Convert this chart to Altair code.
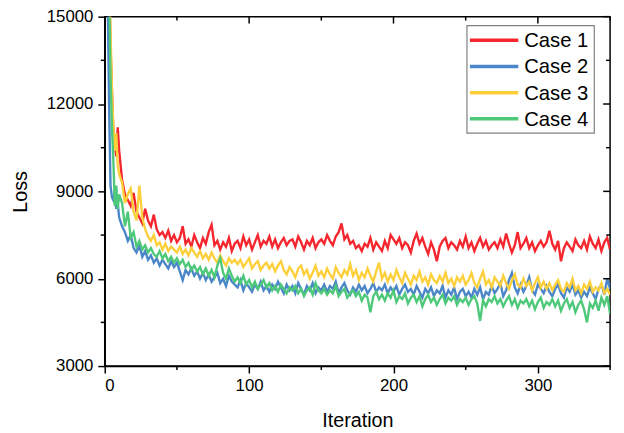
import altair as alt
import pandas as pd

iterations = list(range(1, 11)) + list(range(12, 351, 2))

case1 = [
    22000, 19000, 16500, 14000, 12500, 11000, 10600, 10200, 11200, 10400,
    9400, 8900, 8700, 8500, 8950, 8300, 8100, 7900, 8400, 8000,
    7800, 8200, 7700, 7500, 7600, 7400, 7650, 7300, 7500, 7250,
    7400, 7800, 7200, 7350, 7100, 7500, 7250, 7050, 7400, 7200,
    7600, 7850, 7150, 7300, 7000, 7250, 7100, 7400, 6950, 7200,
    7300, 7050, 7450, 7150, 7350, 7000, 7250, 7500, 7100, 7300,
    7200, 7450, 7100, 7350, 7050, 7250, 7400, 7150, 7300, 7350,
    7100, 7450, 7250, 7000, 7300, 7150, 7400, 7050, 7250, 7350,
    7200, 7500, 7300, 7150, 7450, 7600, 7900, 7350, 7500, 7200,
    7300, 7050, 7150, 6950, 7200, 7100, 7400, 7000, 7250, 7100,
    6950, 7300, 7050, 7500, 7350, 7200, 7400, 7050, 7250, 7150,
    6900, 7300, 7550, 7200, 7400, 7100, 6850, 7250, 7000, 6600,
    7100, 7300, 7400, 7050, 7250, 7150, 7000, 7300, 7100, 7450,
    7050, 7250, 6950, 7200, 7400, 7100, 7300, 7000, 7150, 7250,
    7050, 7350, 7100, 7550, 7200, 6900, 7150, 7600, 7050, 7200,
    7400, 7050, 7250, 6950, 7150, 7300, 7100, 7250, 7650, 7200,
    7000, 7300, 6600, 7050, 7250, 7100, 6950, 7350, 7150, 7050,
    7300, 7000, 7450, 7200, 7050, 7350, 6950, 7250, 7400, 7000,
]

case2 = [
    21000, 16000, 12000, 9200, 8800, 8700, 9000, 8400, 8600, 8100,
    7800, 7600, 7300, 7500, 7050, 6900, 7150, 6750, 6950, 6650,
    6800, 6550, 6700, 6450, 6650, 6500, 6350, 6600, 6400, 6550,
    6250, 5950, 6300, 6150, 6350, 6100, 6250, 6000, 6200, 5950,
    6150, 5900, 6050, 6200, 5850, 6000, 5750, 6100, 5900, 5800,
    5700, 5950, 5600, 5850, 5700, 5550, 5800, 5650, 5900, 5600,
    5750, 5550, 5800, 5650, 5900, 5700, 5500, 5800, 5600, 5750,
    5500, 5850, 5650, 5450, 5750, 5600, 5850, 5500, 5700, 5600,
    5800, 5550, 5750, 5650, 5900, 5500, 5700, 5850, 5600, 5450,
    5700, 5550, 5800, 5600, 5750, 5500, 5650, 5850, 5550, 5700,
    5600, 5800, 5500, 5700, 5550, 5750, 5450, 5650, 5800, 5550,
    5650, 5450, 5750, 5550, 5350, 5650, 5500, 5700, 5400, 5600,
    5500, 5750, 5350, 5600, 5450, 5700, 5300, 5550, 5650, 5400,
    5550, 5350, 5650, 5450, 5700, 5300, 5550, 5450, 5750, 5500,
    5650, 5850, 5400, 5600, 5950, 6200, 5700, 5500, 5800, 5550,
    5750, 6050, 5600, 5450, 5800, 5650, 5500, 5750, 5550, 5400,
    5650, 5800, 5500, 5350, 5700, 5550, 5800, 5450, 5600, 5350,
    5550, 5400, 5700, 5500, 5300, 5650, 5800, 5450, 6000, 5650,
]

case3 = [
    24000, 20000, 17000, 14500, 12500, 11200, 10400, 11000, 9900, 9600,
    9300, 8600, 8900, 9100, 8300, 8000, 9200, 8100, 7700, 7450,
    7300, 7500, 7150, 7250, 7000, 7200, 6950, 7100, 7000, 6900,
    7100, 6850, 7000, 6800, 7050, 6900, 6750, 6950, 6700, 6850,
    6650, 6900, 6700, 6550, 6800, 6600, 6450, 6700, 6550, 6650,
    6500, 6650, 6400, 6550, 6700, 6350, 6500, 6600, 6300, 6450,
    6550, 6350, 6500, 6250, 6450, 6600, 6300, 6150, 6400, 6250,
    6050, 6350, 6450, 6150, 6300, 6000, 6200, 6450, 6100, 6250,
    6050, 6350, 6150, 6000, 6400, 6200, 6050, 6300, 6150, 6500,
    6100, 6300, 5950, 6200, 6050, 6350, 6100, 5900, 6250, 6550,
    6000, 6200, 5900, 6150, 5950, 6300, 6050, 5850, 6200, 6000,
    5800, 6100, 5950, 6250, 5900, 6050, 5800, 6150, 5950, 5850,
    6100, 5900, 6200, 5850, 6000, 5750, 6050, 5900, 6100, 5800,
    5950, 6200, 5850, 5700, 6000, 6250, 5800, 5950, 5700, 6050,
    5900, 5750, 6100, 5850, 5650, 5950, 6150, 5800, 5700, 6000,
    5750, 5900, 5600, 5850, 6050, 5700, 5900, 5650, 5850, 5600,
    5800, 5950, 5650, 5550, 5850, 5700, 6000, 5600, 5750, 5500,
    5800, 5650, 5900, 5550, 5700, 5600, 5850, 5500, 5650, 5450,
]

case4 = [
    25000, 20000, 16000, 13000, 11200, 10000, 8500, 9200, 8400, 8900,
    8600, 7800, 8300, 7400, 7600, 7100, 7300, 7000, 7150, 6900,
    7050, 6850, 6750, 6950, 6700, 6850, 6600, 6750, 6550, 6700,
    6500, 6650, 6400, 6550, 6300, 6450, 6250, 6400, 6150, 6350,
    6100, 6300, 6050, 6450, 6700, 6200, 6000, 6350, 6100, 5900,
    6050, 5850, 6100, 5800, 5950, 5700, 5900, 5650, 5800, 5950,
    5700, 5850, 5600, 5750, 5550, 5800, 5650, 5500, 5700, 5600,
    5750, 5500, 5650, 5400, 5600, 5700, 5450, 5850, 5600, 5500,
    5650, 5450, 5600, 5500, 5750, 5400, 5550, 5650, 5350, 5500,
    5600, 5400, 5550, 5250, 5450, 5350, 4850, 5400, 5550, 5300,
    5450, 5250, 5500, 5350, 5600, 5200, 5400, 5300, 5500, 5150,
    5350, 5450, 5200, 5400, 5050, 5300, 5450, 5200, 5350, 5100,
    5300, 5450, 5150, 5350, 5250, 5400, 5100, 5300, 5200, 5350,
    5100, 5300, 5400, 5150, 4550, 5250, 5050, 5300, 5200, 5400,
    5150, 5300, 5050, 5250, 5400, 5100, 5300, 5000, 5250, 5150,
    5300, 5050, 5250, 4950, 5200, 5350, 5000, 5200, 5100, 5300,
    5050, 5250, 4900, 5150, 5300, 5000, 5200, 4850, 5100, 5250,
    4950, 4500, 5150, 5000, 5250, 4900, 5350, 5100, 5400, 4800,
]

case_names = ["Case 1", "Case 2", "Case 3", "Case 4"]
case_colors = ["#f5262d", "#4a86c8", "#fdd03b", "#4ec97a"]

x_major = [0, 100, 200, 300]
x_minor = [50, 150, 250, 350]
y_major = [3000, 6000, 9000, 12000, 15000]
y_minor = [4500, 7500, 10500, 13500]

rows = []
for name, series in zip(case_names, [case1, case2, case3, case4]):
    for it, v in zip(iterations, series):
        rows.append({"Iteration": it, "Loss": v, "Case": name})
df = pd.DataFrame(rows)

W, H = 512, 354
FONT = "Liberation Sans"

xscale = alt.Scale(domain=[0, 350], nice=False, zero=False)
yscale = alt.Scale(domain=[3000, 15000], nice=False, zero=False)
cscale = alt.Scale(domain=case_names, range=case_colors)

lines = alt.Chart(df).mark_line(strokeWidth=2.4, clip=True).encode(
    x=alt.X("Iteration:Q", scale=xscale,
            axis=alt.Axis(values=x_major, title="Iteration", titlePadding=17,
                          labelPadding=5, format="d")),
    y=alt.Y("Loss:Q", scale=yscale,
            axis=alt.Axis(values=y_major, title="Loss", titlePadding=16,
                          labelPadding=5, format="d")),
    color=alt.Color("Case:N", scale=cscale, legend=None),
)

xminor_df = pd.DataFrame({"v": x_minor})
xmajor_df = pd.DataFrame({"v": x_major})
yminor_df = pd.DataFrame({"v": y_minor})
ymajor_df = pd.DataFrame({"v": y_major})

tick_style = dict(color="black", strokeWidth=1.5)

top_major = alt.Chart(xmajor_df).mark_rule(**tick_style).encode(
    x=alt.X("v:Q", scale=xscale), y=alt.value(0), y2=alt.value(7))
top_minor = alt.Chart(xminor_df).mark_rule(**tick_style).encode(
    x=alt.X("v:Q", scale=xscale), y=alt.value(0), y2=alt.value(4))
bot_minor = alt.Chart(xminor_df).mark_rule(**tick_style).encode(
    x=alt.X("v:Q", scale=xscale), y=alt.value(H), y2=alt.value(H + 4))
right_major = alt.Chart(ymajor_df).mark_rule(**tick_style).encode(
    y=alt.Y("v:Q", scale=yscale), x=alt.value(W - 7), x2=alt.value(W))
right_minor = alt.Chart(yminor_df).mark_rule(**tick_style).encode(
    y=alt.Y("v:Q", scale=yscale), x=alt.value(W - 4), x2=alt.value(W))
left_minor = alt.Chart(yminor_df).mark_rule(**tick_style).encode(
    y=alt.Y("v:Q", scale=yscale), x=alt.value(-4), x2=alt.value(0))

# legend box (drawn by hand, positioned in the upper-right of the plot)
LX0, LX1, LY0, LY1 = 367, 496, 9, 118
leg_box = alt.Chart(pd.DataFrame({"k": [0]})).mark_rect(
    fill="white", stroke="#808080", strokeWidth=1.2).encode(
    x=alt.value(LX0), x2=alt.value(LX1), y=alt.value(LY0), y2=alt.value(LY1))

legend_layers = []
row_y = [24, 50.5, 77, 103.5]
for name, yy in zip(case_names, row_y):
    d = pd.DataFrame({"Case": [name]})
    legend_layers.append(
        alt.Chart(d).mark_rule(strokeWidth=3.5).encode(
            x=alt.value(LX0 + 3), x2=alt.value(LX0 + 52), y=alt.value(yy),
            color=alt.Color("Case:N", scale=cscale, legend=None)))
    legend_layers.append(
        alt.Chart(d).mark_text(align="left", baseline="middle", font=FONT,
                               fontSize=20.5, color="black").encode(
            x=alt.value(LX0 + 58), y=alt.value(yy + 1), text="Case:N"))

chart = alt.layer(lines, top_major, top_minor, bot_minor,
                  right_major, right_minor, left_minor, leg_box,
                  *legend_layers).properties(
    width=W, height=H,
    background="white",
    autosize=alt.AutoSizeParams(type="none"),
    padding={"left": 98, "top": 6, "right": 6, "bottom": 62},
).configure_view(stroke="black", strokeWidth=1.5).configure_axis(
    grid=False, domainColor="black", domainWidth=1.5, tickColor="black",
    tickWidth=1.5, tickSize=7, labelFont=FONT, labelFontSize=17,
    labelColor="black", titleFont=FONT, titleFontSize=20,
    titleFontWeight="normal", titleColor="black",
)

chart.save("out.html", embed_options={"renderer": "svg", "actions": False})
